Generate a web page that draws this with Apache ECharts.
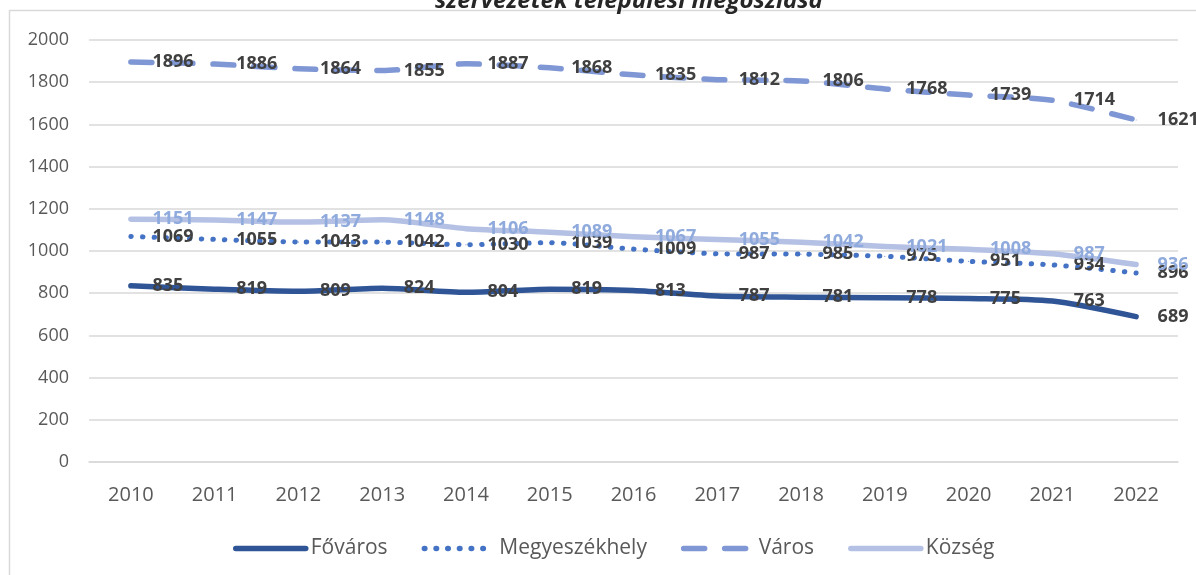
<!DOCTYPE html>
<html>
<head>
<meta charset="utf-8">
<title>Szervezetek települési megoszlása</title>
<script src="https://cdn.jsdelivr.net/npm/echarts@6.0.0/dist/echarts.min.js"></script>
<style>
	html, body { margin: 0; padding: 0; background: #fff; }
	#main { width: 1196px; height: 575px; }
</style>
</head>
<body>
<div id="main"></div>
<script>
var years = ['2010','2011','2012','2013','2014','2015','2016','2017','2018','2019','2020','2021','2022'];
var fovaros = [835, 819, 809, 824, 804, 819, 813, 787, 781, 778, 775, 763, 689];
var megyeszekhely = [1069, 1055, 1043, 1042, 1030, 1039, 1009, 987, 985, 975, 951, 934, 896];
var varos = [1896, 1886, 1864, 1855, 1887, 1868, 1835, 1812, 1806, 1768, 1739, 1714, 1621];
var kozseg = [1151, 1147, 1137, 1148, 1106, 1089, 1067, 1055, 1042, 1021, 1008, 987, 936];
var yTicks = [0, 200, 400, 600, 800, 1000, 1200, 1400, 1600, 1800, 2000];

var FONT = '"Open Sans", "Noto Sans", sans-serif';

window.onload = function () {
	initPage();
};

function initPage(){
	var myChart = echarts.init(document.getElementById('main'));
	myChart.setOption(makeOption());
}

// label beside each point, like the excel "right" data labels
function makeLabel(color){
	return {
		show: true,
		position: 'right',
		distance: 21,
		color: color,
		fontFamily: FONT,
		fontSize: 18,
		fontWeight: 'bold'
	};
}

function makeSeries(name, data, color, width, dash, labelColor){
	return {
		name: name,
		type: 'line',
		data: data,
		smooth: 0.25,
		symbol: 'circle',
		symbolSize: 1,
		color: color,
		itemStyle: { color: color },
		lineStyle: {
			color: color,
			width: width,
			type: dash,
			cap: 'round',
			join: 'round'
		},
		label: makeLabel(labelColor),
		emphasis: { disabled: true }
	};
}

function makeOption(){
	var option = {
		animation: false,
		title: {
			text: 'szervezetek települési megoszlása',
			left: 430,
			top: -16,
			textStyle: {
				fontFamily: FONT,
				fontSize: 24,
				fontStyle: 'italic',
				fontWeight: 'bold',
				color: '#262626'
			}
		},
		graphic: [{
			type: 'rect',
			silent: true,
			shape: { x: 9.5, y: 10.5, width: 1300, height: 700 },
			style: { fill: 'none', stroke: '#d9d9d9', lineWidth: 1.5 }
		}],
		legend: {
			left: 228,
			top: 533,
			itemWidth: 70,
			itemHeight: 14,
			itemGap: 34,
			itemStyle: { opacity: 0 },
			lineStyle: { width: 5.5 },
			textStyle: {
				fontFamily: FONT,
				fontSize: 21,
				color: '#595959'
			},
			data: ['Főváros', 'Megyeszékhely', 'Város', 'Község']
		},
		grid: {
			left: 89,
			right: 18,
			top: 40,
			bottom: 113,
			containLabel: false
		},
		xAxis: {
			type: 'category',
			data: years,
			boundaryGap: true,
			axisLine: { show: true, lineStyle: { color: '#d9d9d9', width: 1.5 } },
			axisTick: { show: false },
			axisLabel: {
				margin: 23,
				fontFamily: FONT,
				fontSize: 20,
				color: '#595959'
			}
		},
		yAxis: {
			type: 'value',
			min: yTicks[0],
			max: yTicks[yTicks.length - 1],
			interval: yTicks[1] - yTicks[0],
			axisLine: { show: false },
			axisTick: { show: false },
			splitLine: { lineStyle: { color: '#d9d9d9', width: 1.5 } },
			axisLabel: {
				margin: 20,
				fontFamily: FONT,
				fontSize: 18,
				color: '#595959',
				formatter: function (v) { return String(v); }
			}
		},
		series: [
			makeSeries('Főváros', fovaros, '#2f5597', 5.5, 'solid', '#404040'),
			makeSeries('Megyeszékhely', megyeszekhely, '#4472c4', 5, [0.5, 11.2], '#404040'),
			makeSeries('Város', varos, '#7f97d4', 5.5, [21, 20], '#404040'),
			makeSeries('Község', kozseg, '#b4c1e4', 5.5, 'solid', '#8faadc')
		]
	};
	return option;
}
</script>
</body>
</html>
